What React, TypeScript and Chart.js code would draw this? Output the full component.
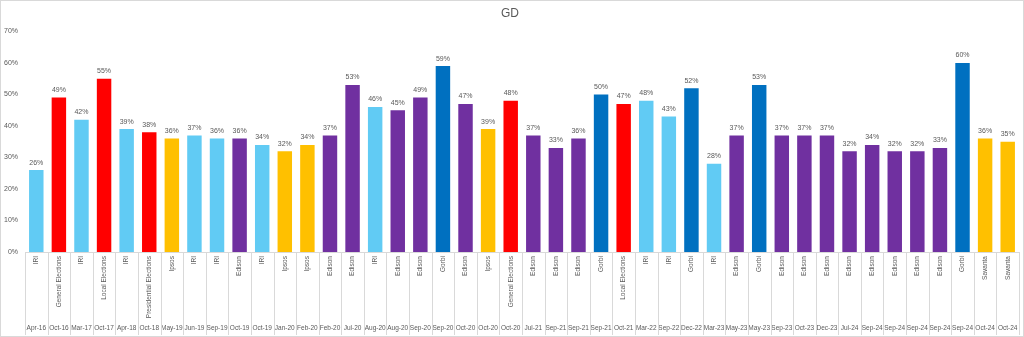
import { useEffect, useRef } from "react";
import { Chart, registerables } from "chart.js";

Chart.register(...registerables);

const dates = [
  "Apr-16", "Oct-16", "Mar-17", "Oct-17", "Apr-18", "Oct-18", "May-19", "Jun-19", "Sep-19", "Oct-19", "Oct-19",
  "Jan-20", "Feb-20", "Feb-20", "Jul-20", "Aug-20", "Aug-20", "Sep-20", "Sep-20", "Oct-20", "Oct-20", "Oct-20",
  "Jul-21", "Sep-21", "Sep-21", "Sep-21", "Oct-21", "Mar-22", "Sep-22", "Dec-22", "Mar-23", "May-23", "May-23",
  "Sep-23", "Oct-23", "Dec-23", "Jul-24", "Sep-24", "Sep-24", "Sep-24", "Sep-24", "Sep-24", "Oct-24", "Oct-24",
];

const pollsters = [
  "IRI", "General Elections", "IRI", "Local Elections", "IRI", "Presidential Elections", "Ipsos", "IRI", "IRI", "Edison", "IRI",
  "Ipsos", "Ipsos", "Edison", "Edison", "IRI", "Edison", "Edison", "Gorbi", "Edison", "Ipsos", "General Elections",
  "Edison", "Edison", "Edison", "Gorbi", "Local Elections", "IRI", "IRI", "Gorbi", "IRI", "Edison", "Gorbi",
  "Edison", "Edison", "Edison", "Edison", "Edison", "Edison", "Edison", "Edison", "Gorbi", "Savanta", "Savanta",
];

const values = [
  26, 49, 42, 55, 39, 38, 36, 37, 36, 36, 34,
  32, 34, 37, 53, 46, 45, 49, 59, 47, 39, 48,
  37, 33, 36, 50, 47, 48, 43, 52, 28, 37, 53,
  37, 37, 37, 32, 34, 32, 32, 33, 60, 36, 35,
];

const yTicks = [0, 10, 20, 30, 40, 50, 60, 70];

const colorBySource: Record<string, string> = {
  IRI: "#61CBF4",
  "General Elections": "#FF0000",
  "Local Elections": "#FF0000",
  "Presidential Elections": "#FF0000",
  Ipsos: "#FFC000",
  Savanta: "#FFC000",
  Edison: "#7030A0",
  Gorbi: "#0070C0",
};

const FONT = "'Liberation Sans', Arial, sans-serif";
const TEXT = "#595959";
const LINE = "#D9D9D9";

const dataLabels = {
  id: "dataLabels",
  afterDatasetsDraw(chart: any) {
    const ctx = chart.ctx;
    const meta = chart.getDatasetMeta(0);
    ctx.save();
    ctx.font = `7px ${FONT}`;
    ctx.fillStyle = TEXT;
    ctx.textAlign = "center";
    ctx.textBaseline = "bottom";
    meta.data.forEach((bar: any, i: number) => {
      ctx.fillText(Math.round(values[i]) + "%", bar.x, bar.y - 4);
    });
    ctx.restore();
  },
};

const separators = {
  id: "separators",
  afterDraw(chart: any) {
    const ctx = chart.ctx;
    const x = chart.scales.x;
    const x2 = chart.scales.x2;
    const n = x.ticks.length;
    const step = (x.right - x.left) / n;
    ctx.save();
    ctx.strokeStyle = LINE;
    ctx.lineWidth = 1;
    ctx.beginPath();
    for (let i = 0; i <= n; i++) {
      const px = Math.round(x.left + i * step) + 0.5;
      ctx.moveTo(px, chart.chartArea.bottom);
      ctx.lineTo(px, x2.bottom + 1);
    }
    ctx.stroke();
    ctx.restore();
  },
};

export default function App() {
  const ref = useRef<HTMLCanvasElement | null>(null);

  useEffect(() => {
    document.body.style.margin = "0";
    if (!ref.current) return;
    const chart = new Chart(ref.current, {
      type: "bar",
      data: {
        labels: pollsters,
        datasets: [
          {
            label: "GD",
            data: values,
            backgroundColor: pollsters.map((p) => colorBySource[p]),
            categoryPercentage: 1,
            barPercentage: 0.64,
            xAxisID: "x",
          },
        ],
      },
      options: {
        animation: false,
        responsive: true,
        maintainAspectRatio: false,
        layout: { padding: { left: 0, right: 4, top: 0, bottom: 2 } },
        plugins: {
          legend: { display: false },
          tooltip: { enabled: false },
          title: {
            display: true,
            text: "GD",
            color: TEXT,
            font: { family: FONT, size: 12, weight: "normal" },
            padding: { top: 5, bottom: 11 },
          },
        },
        scales: {
          x: {
            type: "category",
            weight: 0,
            offset: true,
            grid: { display: false, drawTicks: false },
            border: { display: true, color: LINE },
            ticks: {
              autoSkip: false,
              minRotation: 90,
              maxRotation: 90,
              padding: 4,
              color: TEXT,
              font: { family: FONT, size: 6.5 },
            },
          },
          x2: {
            type: "category",
            position: "bottom",
            weight: 1,
            labels: dates,
            offset: true,
            grid: { display: false, drawTicks: false },
            border: { display: false },
            ticks: {
              autoSkip: false,
              maxRotation: 0,
              minRotation: 0,
              padding: 2,
              color: TEXT,
              font: { family: FONT, size: 6.5 },
            },
          },
          y: {
            min: 0,
            max: 70,
            afterBuildTicks: (scale: any) => {
              scale.ticks = yTicks.map((v) => ({ value: v }));
            },
            afterFit: (scale: any) => {
              scale.width = 24;
            },
            grid: { display: false, drawTicks: false },
            border: { display: false },
            ticks: {
              padding: 7,
              color: TEXT,
              font: { family: FONT, size: 7 },
              callback: (v: any) => v + "%",
            },
          },
        },
      },
      plugins: [dataLabels, separators],
    });
    return () => chart.destroy();
  }, []);

  return (
    <div
      style={{
        width: 1024,
        height: 337,
        border: `1px solid ${LINE}`,
        boxSizing: "border-box",
        position: "relative",
        background: "#fff",
      }}
    >
      <canvas ref={ref} />
    </div>
  );
}
